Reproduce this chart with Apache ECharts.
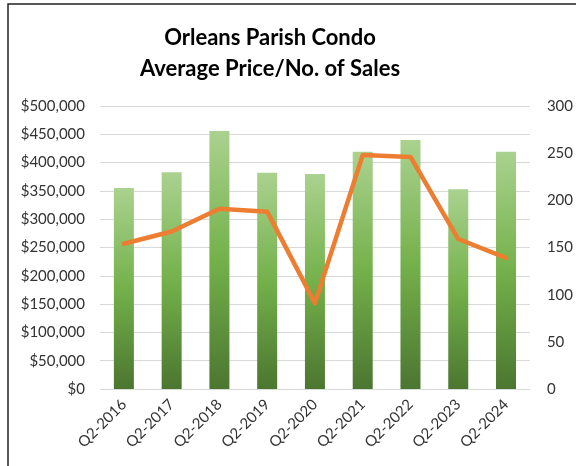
<!DOCTYPE html>
<html>
<head>
<meta charset="utf-8">
<script src="https://cdn.jsdelivr.net/npm/echarts@6/dist/echarts.min.js"></script>
<style>
  html, body {margin: 0; padding: 0; background: #fff;}
  #chart {width: 576px; height: 466px;}
</style>
</head>
<body>
<div id="chart"></div>
<script>
// quarters along the x axis
const quarters = ['Q2-2016', 'Q2-2017', 'Q2-2018', 'Q2-2019', 'Q2-2020', 'Q2-2021', 'Q2-2022', 'Q2-2023', 'Q2-2024'];
// average price (bars, left axis)
const avgPrice = [355000, 383000, 456000, 382000, 380000, 419000, 440000, 353000, 419000];
// number of sales (line, right axis)
const numSales = [154, 167, 191, 188, 91, 248, 246, 159, 139];

const FONT = 'Lato';

const option = {
    animation: false,
    graphic: [
        {
            type: 'rect',
            shape: {x: 8, y: 4, width: 620, height: 480},
            style: {fill: 'none', stroke: '#222', lineWidth: 1.5}
        },
        {
            type: 'text',
            x: 270, y: 22,
            style: {
                text: 'Orleans Parish Condo\nAverage Price/No. of Sales',
                align: 'center', verticalAlign: 'top',
                font: 'bold 22px ' + FONT, lineHeight: 31, fill: '#000'
            }
        }
    ],
    grid: {left: 100, right: 43, top: 106, bottom: 77},
    xAxis: {
        type: 'category',
        data: quarters,
        axisLine: {lineStyle: {color: '#d9d9d9'}},
        axisTick: {show: false},
        axisLabel: {rotate: 45, margin: 13, fontFamily: FONT, fontSize: 15, color: '#333', interval: 0}
    },
    yAxis: [
        {
            type: 'value', min: 0, max: 500000, interval: 50000,
            axisLine: {show: false}, axisTick: {show: false},
            axisLabel: {
                margin: 15, fontFamily: FONT, fontSize: 15, color: '#333',
                formatter: v => '$' + v.toLocaleString('en-US')
            },
            splitLine: {lineStyle: {color: '#d9d9d9', width: 1}}
        },
        {
            type: 'value', min: 0, max: 300, interval: 50,
            axisLine: {show: false}, axisTick: {show: false},
            axisLabel: {margin: 17, fontFamily: FONT, fontSize: 15, color: '#333'},
            splitLine: {show: false}
        }
    ],
    series: [
        {
            name: 'Average Price',
            type: 'bar',
            yAxisIndex: 0,
            barWidth: 20,
            itemStyle: {
                // per-bar gradient, light at top, dark at the base
                color: new echarts.graphic.LinearGradient(0, 0, 0, 1, [
                    {offset: 0, color: '#aad28f'},
                    {offset: 0.5, color: '#74b14a'},
                    {offset: 1, color: '#4b7630'}
                ], false)
            },
            data: avgPrice
        },
        {
            name: 'No. of Sales',
            type: 'line',
            yAxisIndex: 1,
            symbol: 'none',
            lineStyle: {color: '#ed7d31', width: 4.5, cap: 'round', join: 'round'},
            itemStyle: {color: '#ed7d31'},
            data: numSales
        }
    ]
};

const myChart = echarts.init(document.getElementById('chart'));
myChart.setOption(option);
</script>
</body>
</html>
